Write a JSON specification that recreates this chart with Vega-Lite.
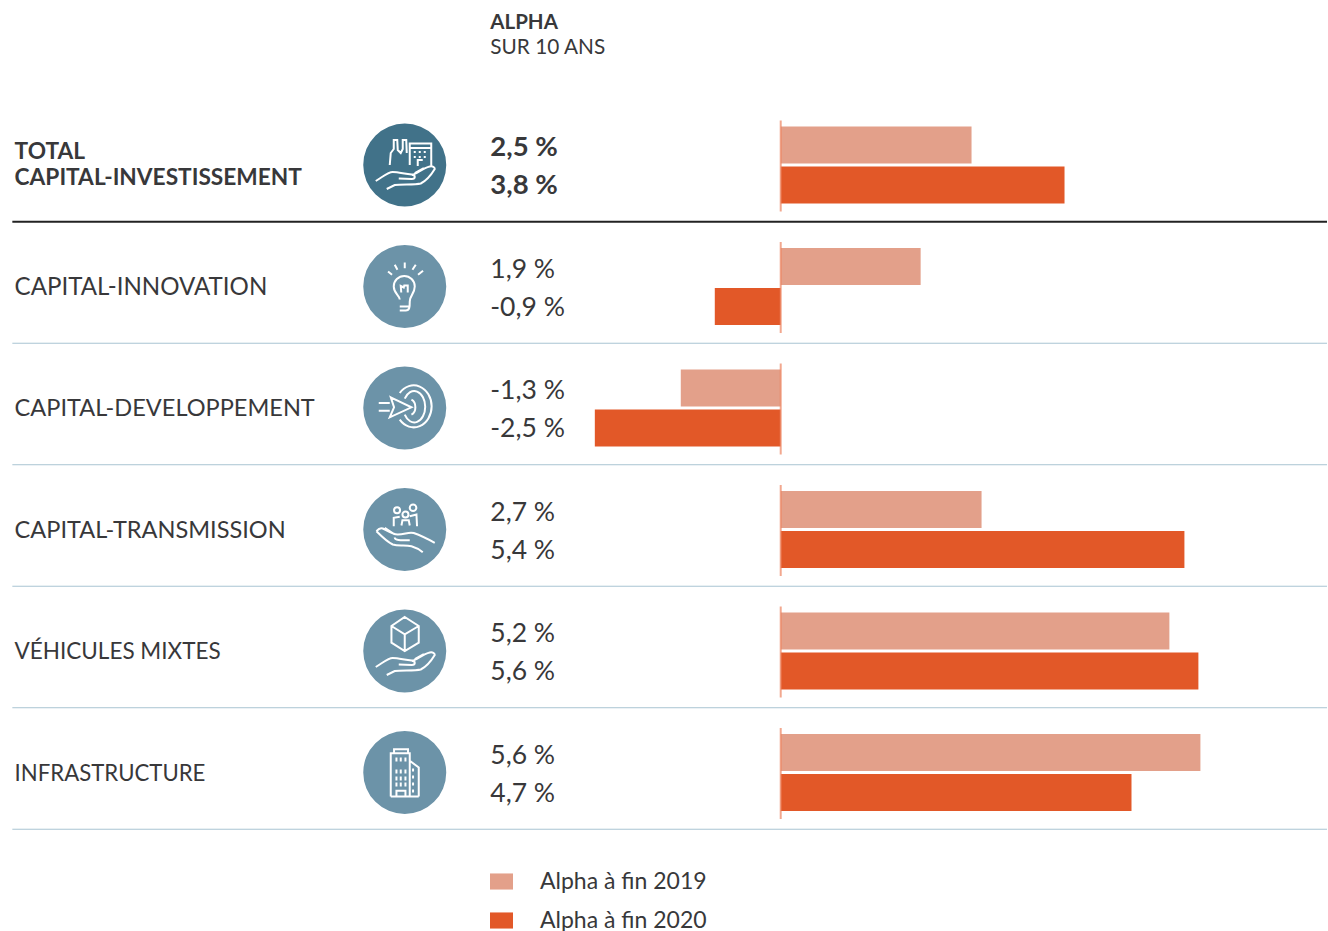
{
"$schema":"https://vega.github.io/schema/vega-lite/v6.json",
"width":1328,"height":931,"autosize":{"type":"fit","contains":"padding"},"padding":0,
"background":"#ffffff",
"config":{"view":{"stroke":null},"text":{"font":"Lato","fontSize":23.4,"color":"#38383a","baseline":"middle","align":"left"}},
"datasets":{
"bars":[
{"row":"TOTAL\nCAPITAL-INVESTISSEMENT","series":"Alpha à fin 2019","value":2.553,"label":"2,5 %"},
{"row":"TOTAL\nCAPITAL-INVESTISSEMENT","series":"Alpha à fin 2020","value":3.797,"label":"3,8 %"},
{"row":"CAPITAL-INNOVATION","series":"Alpha à fin 2019","value":1.872,"label":"1,9 %"},
{"row":"CAPITAL-INNOVATION","series":"Alpha à fin 2020","value":-0.882,"label":"-0,9 %"},
{"row":"CAPITAL-DEVELOPPEMENT","series":"Alpha à fin 2019","value":-1.337,"label":"-1,3 %"},
{"row":"CAPITAL-DEVELOPPEMENT","series":"Alpha à fin 2020","value":-2.487,"label":"-2,5 %"},
{"row":"CAPITAL-TRANSMISSION","series":"Alpha à fin 2019","value":2.687,"label":"2,7 %"},
{"row":"CAPITAL-TRANSMISSION","series":"Alpha à fin 2020","value":5.401,"label":"5,4 %"},
{"row":"VÉHICULES MIXTES","series":"Alpha à fin 2019","value":5.2,"label":"5,2 %"},
{"row":"VÉHICULES MIXTES","series":"Alpha à fin 2020","value":5.588,"label":"5,6 %"},
{"row":"INFRASTRUCTURE","series":"Alpha à fin 2019","value":5.615,"label":"5,6 %"},
{"row":"INFRASTRUCTURE","series":"Alpha à fin 2020","value":4.693,"label":"4,7 %"}
],
"rows":[
{"row":"TOTAL\nCAPITAL-INVESTISSEMENT"},
{"row":"CAPITAL-INNOVATION"},
{"row":"CAPITAL-DEVELOPPEMENT"},
{"row":"CAPITAL-TRANSMISSION"},
{"row":"VÉHICULES MIXTES"},
{"row":"INFRASTRUCTURE"}
],
"head":[{"row":"head"}]
},
"encoding":{"y":{"field":"row","type":"nominal","axis":null,"scale":{"domain":["head","TOTAL\nCAPITAL-INVESTISSEMENT","CAPITAL-INNOVATION","CAPITAL-DEVELOPPEMENT","CAPITAL-TRANSMISSION","VÉHICULES MIXTES","INFRASTRUCTURE"],"range":[-17.25,833.25],"paddingInner":0,"paddingOuter":0}}},
"layer":[
{"data":{"name":"rows"},"transform":[{"filter":"datum.row !== 'TOTAL\\nCAPITAL-INVESTISSEMENT'"}],
 "mark":{"type":"rule","color":"#a9c4d2","strokeWidth":1},
 "encoding":{"y":{"field":"row","type":"nominal","bandPosition":0.967},
  "x":{"datum":-10.28,"type":"quantitative","axis":null,"scale":{"domain":[-10.445,7.3086],"nice":false,"zero":false}},"x2":{"datum":7.3086}}},
{"data":{"name":"rows"},"transform":[{"filter":"datum.row === 'TOTAL\\nCAPITAL-INVESTISSEMENT'"}],
 "mark":{"type":"rule","color":"#222222","strokeWidth":2},
 "encoding":{"y":{"field":"row","type":"nominal","bandPosition":0.967},
  "x":{"datum":-10.28,"type":"quantitative"},"x2":{"datum":7.3086}}},
{"data":{"name":"bars"},
 "mark":{"type":"bar"},
 "encoding":{"x":{"field":"value","type":"quantitative","stack":null},
  "yOffset":{"field":"series","type":"nominal","scale":{"domain":["Alpha à fin 2019","Alpha à fin 2020"],"paddingInner":0.075,"paddingOuter":0.5575}},
  "color":{"field":"series","type":"nominal","scale":{"domain":["Alpha à fin 2019","Alpha à fin 2020"],"range":["#e3a08a","#e25828"]},
   "legend":{"title":null,"orient":"none","legendX":490,"legendY":870,"symbolType":"M-1,-0.7H1V0.7H-1Z","symbolSize":529,"symbolStrokeWidth":0,"labelFont":"Lato","labelFontSize":23,"labelColor":"#38383a","labelOffset":27,"labelLimit":300,"rowPadding":15}}}},
{"data":{"name":"rows"},
 "mark":{"type":"tick","orient":"vertical","size":91,"thickness":2,"color":"#ec835f","yOffset":1},
 "encoding":{"x":{"datum":0,"type":"quantitative"}}},
{"data":{"name":"rows"},"transform":[{"filter":"datum.row === 'TOTAL\\nCAPITAL-INVESTISSEMENT'"}],
 "mark":{"type":"text","fontWeight":"bold","fontSize":22.7,"lineBreak":"\n","lineHeight":26,"yOffset":-13},
 "encoding":{"x":{"datum":-10.25,"type":"quantitative"},"text":{"field":"row","type":"nominal"}}},
{"data":{"name":"rows"},"transform":[{"filter":"datum.row !== 'TOTAL\\nCAPITAL-INVESTISSEMENT'"}],
 "mark":{"type":"text","yOffset":1},
 "encoding":{"x":{"datum":-10.25,"type":"quantitative"},"text":{"field":"row","type":"nominal"},
  "size":{"field":"row","type":"nominal","legend":null,"scale":{"type":"ordinal","domain":["CAPITAL-INNOVATION","CAPITAL-DEVELOPPEMENT","CAPITAL-TRANSMISSION","VÉHICULES MIXTES","INFRASTRUCTURE"],"range":[24.1,23.55,23.55,22.5,22.2]}}}},
{"data":{"name":"rows"},
 "mark":{"type":"point","filled":true,"size":6889,"opacity":1,"shape":"circle","strokeWidth":0},
 "encoding":{"x":{"datum":-5.03,"type":"quantitative"},
  "fill":{"condition":{"test":"datum.row === 'TOTAL\\nCAPITAL-INVESTISSEMENT'","value":"#417289"},"value":"#6c93a8"}}},
{"data":{"name":"rows"},
 "mark":{"type":"point","filled":false,"size":4,"opacity":1,"stroke":"#ffffff","strokeWidth":2,"fill":null},
 "encoding":{"x":{"datum":-5.03,"type":"quantitative"},
  "shape":{"field":"row","type":"nominal","legend":null,"scale":{"domain":["TOTAL\nCAPITAL-INVESTISSEMENT","CAPITAL-INNOVATION","CAPITAL-DEVELOPPEMENT","CAPITAL-TRANSMISSION","VÉHICULES MIXTES","INFRASTRUCTURE"],
  "range":[
  "M-29,16C-22,12 -17,7 -12,7C-6,7 0,9 7,9.5C11,10 11,14 7,14L-6,13.5M7,10C12,9 18,3 25,1.5C28,1 30,2 30,4C27,9 21,16 16,18.5C10,20 -3,19 -10,20L-18,24M10,8L19,3M-15,0L-14,-12L-11,-16L-11,-25L-7.5,-25L-7,-15L-4,-12L-2,-16L-2,-25L1.5,-25L2,-12M5,0L5,-21.5L26.5,-21.5L26.5,1M5,-17L26.5,-17M9,-13H11M14,-13H16M19,-13H21M9,-8H11M14,-8H16M19,-8H21M13,1L13,-5L18,-5",
  "M-16.7,-15L-12.7,-11.7M-10,-21.7L-7.3,-16.7M0,-24L0,-18.3M11,-21.7L7.7,-16.7M18.3,-15.7L13.3,-11.7M-5,13C-5,9 -11,7 -11,0A10.5,10.5 0 1 1 10,0C10,7 5,9 5,15C5,20 5,24 1,24L-5,24M-5,20L4,20M-3.5,6L-4,-0.5L-1,1L-0.5,-1L3,-1L3,6",
  "M-26,-5L-15,-5M-26,2.7L-15,2.7M-14,-10.7L6.7,-0.7L-15,9.3L-10.7,-0.7ZM-5,-15A18,21 0 1 1 -5,11.7M0,-9.3A11,15.7 0 1 1 0,6.7M6.7,-8.3A6,8 0 0 1 6.7,6.7",
  "M-28.3,1.7C-26,-1 -24,-2 -22,-1C-18,1 -12,5 -7,5C0,5 4,2 9,3.5C16,6 24,10 30,13.3M-28.3,1.7C-24,6 -18,12 -12,15C-6,17 0,15 6.7,16.7C11,18 15,20 18,22.7M-20,-1.7L-10,5M-10,8C-10,11 -5,11 5,10.7M-7.7,-19.3m-3,0a3,3 0 1 0 6,0a3,3 0 1 0 -6,0M0.7,-15m-3,0a3,3 0 1 0 6,0a3,3 0 1 0 -6,0M8.3,-21.7m-3.3,0a3.3,3.3 0 1 0 6.6,0a3.3,3.3 0 1 0 -6.6,0M-11,-3.3L-11,-11.7L-5,-12.7M-3.3,-4L-2.3,-9.3L4,-9.3L5,-4M5,-13.3L11.7,-15L12.3,-3.3",
  "M-29,16C-22,12 -17,7 -12,7C-6,7 0,9 7,9.5C11,10 11,14 7,14L-6,13.5M7,10C12,9 18,3 25,1.5C28,1 30,2 30,4C27,9 21,16 16,18.5C10,20 -3,19 -10,20L-18,24M10,8L19,3M0,-34L14,-25L14,-8.3L0,0L-13.3,-8.3L-13.3,-25ZM-13.3,-25L0,-16.7L14,-25M0,-16.7L0,0",
  "M-14,24L-14,-19.3L5,-19.3L5,24M-10.7,-19.3L-10.7,-23.3L3.3,-23.3L3.3,-19.3M5,-11.7L14,-5L14,24M-14,24L14,24M-8.3,-15L-8.3,-11M-4,-15L-4,-11M0.7,-15L0.7,-11M-8.3,-3L-8.3,1M-4,-3L-4,1M0.7,-3L0.7,1M-8.3,4L-8.3,8M-4,4L-4,8M0.7,4L0.7,8M-8.3,10L-8.3,14M-4,10L-4,14M0.7,10L0.7,14M-8.3,24L-8.3,18.3L0.7,18.3L0.7,24M8.3,-4L8.3,-1M8.3,3L8.3,6M8.3,10L8.3,13M8.3,17L8.3,20"
  ]}}}},
{"data":{"name":"bars"},"transform":[{"filter":"datum.row === 'TOTAL\\nCAPITAL-INVESTISSEMENT' && datum.series === 'Alpha à fin 2019'"}],
 "mark":{"type":"text","fontWeight":"bold","fontSize":27.5,"yOffset":-17},
 "encoding":{"x":{"datum":-3.886,"type":"quantitative"},"text":{"field":"label","type":"nominal"}}},
{"data":{"name":"bars"},"transform":[{"filter":"datum.row === 'TOTAL\\nCAPITAL-INVESTISSEMENT' && datum.series === 'Alpha à fin 2020'"}],
 "mark":{"type":"text","fontWeight":"bold","fontSize":27.5,"yOffset":21},
 "encoding":{"x":{"datum":-3.886,"type":"quantitative"},"text":{"field":"label","type":"nominal"}}},
{"data":{"name":"bars"},"transform":[{"filter":"datum.row !== 'TOTAL\\nCAPITAL-INVESTISSEMENT' && datum.series === 'Alpha à fin 2019'"}],
 "mark":{"type":"text","fontSize":26.5,"yOffset":-17},
 "encoding":{"x":{"datum":-3.886,"type":"quantitative"},"text":{"field":"label","type":"nominal"}}},
{"data":{"name":"bars"},"transform":[{"filter":"datum.row !== 'TOTAL\\nCAPITAL-INVESTISSEMENT' && datum.series === 'Alpha à fin 2020'"}],
 "mark":{"type":"text","fontSize":26.5,"yOffset":21},
 "encoding":{"x":{"datum":-3.886,"type":"quantitative"},"text":{"field":"label","type":"nominal"}}},
{"data":{"name":"head"},
 "mark":{"type":"text","fontWeight":"bold","fontSize":20.5,"text":"ALPHA","yOffset":-21},
 "encoding":{"x":{"datum":-3.886,"type":"quantitative"}}},
{"data":{"name":"head"},
 "mark":{"type":"text","fontSize":20.8,"text":"SUR 10 ANS","yOffset":4},
 "encoding":{"x":{"datum":-3.886,"type":"quantitative"}}}
]
}
